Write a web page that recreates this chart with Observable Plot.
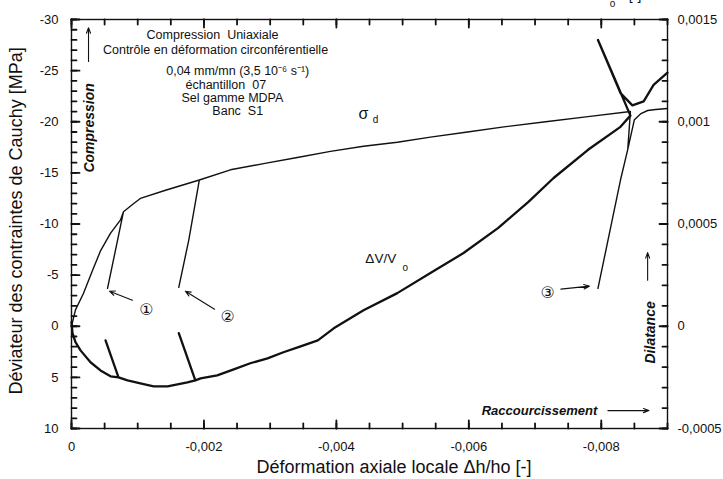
<!DOCTYPE html>
<html>
<head>
<meta charset="utf-8">
<script src="https://cdn.jsdelivr.net/npm/d3@7"></script>
<script src="https://cdn.jsdelivr.net/npm/@observablehq/plot@0.6"></script>
<style>
  html, body { margin: 0; padding: 0; background: #fff; }
  #chart svg { display: block; }
</style>
</head>
<body>
<div id="chart"></div>
<script>
// ---- Data -------------------------------------------------------------
// Deviatoric stress sigma_d [MPa] vs local axial strain (with unload/reload cycles 1, 2, 3)
const sigmaD = [
  [0, 0], [-0.00006, -1.6], [-0.00018, -3.2], [-0.00032, -5.5], [-0.00044, -7.4],
  [-0.00059, -9.1], [-0.00074, -10.4], [-0.000785, -11.2],
  [-0.000695, -8.4], [-0.000544, -3.7], [-0.000695, -8.4], [-0.000785, -11.2],
  [-0.00094, -12.0], [-0.00104, -12.5], [-0.00142, -13.3], [-0.00193, -14.3],
  [-0.00177, -8.4], [-0.00162, -3.8], [-0.00177, -8.4], [-0.00193, -14.3],
  [-0.0024, -15.3], [-0.0029, -15.9], [-0.00341, -16.5], [-0.00391, -17.1],
  [-0.00441, -17.6], [-0.00492, -18.0], [-0.00542, -18.5], [-0.00598, -19.0],
  [-0.00653, -19.5], [-0.00716, -20.0], [-0.0078, -20.5], [-0.00844, -21.0],
  [-0.0084, -17.3], [-0.00829, -14.3], [-0.00795, -3.7], [-0.00829, -14.3], [-0.0084, -17.3],
  [-0.0085, -20.2], [-0.0086, -20.8], [-0.0087, -21.1], [-0.00882, -21.2], [-0.009, -21.3]
];
// Volumetric strain dV/V0 [-] vs local axial strain
const dvV0 = [
  [0, 0.00002], [-0.000015, -0.000034], [-0.00006, -0.000078], [-0.000136, -0.000118],
  [-0.000287, -0.000176], [-0.000438, -0.000216], [-0.000589, -0.000245],
  [-0.00071, -0.00025], [-0.000514, -0.000069], [-0.00071, -0.00025],
  [-0.000846, -0.000265], [-0.00104, -0.000279], [-0.00124, -0.000294], [-0.00145, -0.000294],
  [-0.00175, -0.000275], [-0.00187, -0.000265], [-0.00162, -0.000034], [-0.00187, -0.000265],
  [-0.00195, -0.000255], [-0.0022, -0.00024], [-0.00245, -0.000211], [-0.0027, -0.000181],
  [-0.00296, -0.000157], [-0.0032, -0.000127], [-0.00346, -0.000098], [-0.00372, -0.000069],
  [-0.00396, -0.00001], [-0.00441, 0.000078], [-0.00492, 0.000162], [-0.00542, 0.00026],
  [-0.00592, 0.000358], [-0.00644, 0.00048], [-0.0069, 0.000608], [-0.00728, 0.000725],
  [-0.0078, 0.000863], [-0.00829, 0.000975], [-0.00844, 0.00103],
  [-0.00819, 0.00122], [-0.00795, 0.0014], [-0.00829, 0.00114], [-0.00847, 0.00108],
  [-0.00864, 0.0011], [-0.00879, 0.00118], [-0.009, 0.00124]
];
// Tick values
const leftTicks = [-30, -25, -20, -15, -10, -5, 0, 5, 10];
const leftMinorTicks = [-30, -29, -28, -27, -26, -25, -24, -23, -22, -21, -20, -19, -18, -17, -16, -15, -14, -13, -12, -11, -10,
  -9, -8, -7, -6, -5, -4, -3, -2, -1, 0, 1, 2, 3, 4, 5, 6, 7, 8, 9, 10];
const rightTicks = [0.0015, 0.001, 0.0005, 0, -0.0005];
const rightMinorTicks = [0.0015, 0.0014, 0.0013, 0.0012, 0.0011, 0.001, 0.0009, 0.0008, 0.0007, 0.0006, 0.0005,
  0.0004, 0.0003, 0.0002, 0.0001, 0, -0.0001, -0.0002, -0.0003, -0.0004, -0.0005];
const xTicks = [0, -0.002, -0.004, -0.006, -0.008];
const xMinorTicks = [0, -0.0005, -0.001, -0.0015, -0.002, -0.0025, -0.003, -0.0035, -0.004, -0.0045, -0.005,
  -0.0055, -0.006, -0.0065, -0.007, -0.0075, -0.008, -0.0085, -0.009];

// ---- Layout ---------------------------------------------------------------
const W = 723, H = 479, ML = 71, MR = 56, MT = 19, MB = 51;
const xDomain = [0, -0.009], yDomain = [10, -30];
const pxX = (xDomain[1] - xDomain[0]) / (W - ML - MR);   // data units per pixel (x)
const pxY = (yDomain[1] - yDomain[0]) / (H - MT - MB);   // data units per pixel (y, upward)

// ---- Helpers --------------------------------------------------------------
const K = -20000; // dV/V0 -> position on the stress axis (right axis 0.0015 <-> left -30)
const toY = v => Math.round(K * v * 1e6) / 1e6;
const frNum = v => String(v).replace(".", ",");
const FONT = "'Liberation Sans', Arial, Helvetica, sans-serif";
const rightLabel = new Map(rightTicks.map(v => [toY(v), frNum(v === 0 ? 0 : v)]));
const ink = "#111";

// inward tick marks drawn as head-less arrows
const ticksY = (ticks, side, len) => {
  const a = side === "left" ? xDomain[0] : xDomain[1];
  const b = a + (side === "left" ? 1 : -1) * len * pxX;
  return Plot.arrow(ticks.map(t => ({t, a, b})), {x1: "a", x2: "b", y1: "t", y2: "t", headLength: 0, stroke: ink, strokeWidth: 1.8});
};
const ticksX = (ticks, side, len) => {
  const a = side === "bottom" ? yDomain[0] : yDomain[1];
  const b = a + (side === "bottom" ? 1 : -1) * len * pxY;
  return Plot.arrow(ticks.map(t => ({t, a, b})), {x1: "t", x2: "t", y1: "a", y2: "b", headLength: 0, stroke: ink, strokeWidth: 1.8});
};

const chart = Plot.plot({
  width: W,
  height: H,
  marginLeft: ML,
  marginRight: MR,
  marginTop: MT,
  marginBottom: MB,
  x: {domain: xDomain, axis: null},
  y: {domain: yDomain, axis: null},
  style: {fontFamily: FONT, fontSize: "13px", color: ink, background: "#fff", overflow: "hidden"},
  marks: [
    // tick labels
    Plot.axisY(leftTicks, {anchor: "left", tickSize: 0, tickPadding: 13, tickFormat: d => String(d), label: null, fontSize: 13, fill: ink}),
    Plot.axisY(rightTicks.map(toY), {anchor: "right", tickSize: 0, tickPadding: 10, tickFormat: d => rightLabel.get(d), label: null, fontSize: 13, fill: ink}),
    Plot.axisX(xTicks, {anchor: "bottom", tickSize: 0, tickPadding: 13, tickFormat: frNum, label: null, fontSize: 13, fill: ink}),

    // axis titles
    Plot.text(["Déviateur des contraintes de Cauchy [MPa]"], {x: 0, y: -10.3, dx: -55, rotate: -90, textAnchor: "middle", fontSize: 18, fill: ink}),
    Plot.text(["Déformation axiale locale Δh/ho [-]"], {x: -0.00487, y: 10, dy: 39, textAnchor: "middle", fontSize: 18, fill: ink}),
    // right axis title (cut off at the top of the picture)
    Plot.text(["ΔV/V"], {x: -0.00808, y: -32.3, textAnchor: "end", fontSize: 14, fill: ink}),
    Plot.text(["o"], {x: -0.00817, y: -31.5, fontSize: 10, fill: ink}),
    Plot.text(["[-]"], {x: -0.00851, y: -32.3, fontSize: 14, fill: ink}),

    // curves
    Plot.line(dvV0, {x: d => d[0], y: d => toY(d[1]), stroke: ink, strokeWidth: 2.3}),
    Plot.line(sigmaD, {x: d => d[0], y: d => d[1], stroke: ink, strokeWidth: 1.4}),

    // test conditions block
    Plot.text(["Compression  Uniaxiale"], {x: -0.00213, y: -28.5, fontSize: 12.5, fill: ink}),
    Plot.text(["Contrôle en déformation circonférentielle"], {x: -0.002175, y: -27.0, fontSize: 12.5, fill: ink}),
    Plot.text(["0,04 mm/mn (3,5 10⁻⁶ s⁻¹)"], {x: -0.00251, y: -24.95, fontSize: 12.5, fill: ink}),
    Plot.text(["échantillon  07"], {x: -0.00233, y: -23.6, fontSize: 12.5, fill: ink}),
    Plot.text(["Sel gamme MDPA"], {x: -0.00243, y: -22.35, fontSize: 12.5, fill: ink}),
    Plot.text(["Banc  S1"], {x: -0.00251, y: -21.1, fontSize: 12.5, fill: ink}),

    // curve labels
    Plot.text(["σ"], {x: -0.00441, y: -20.8, fontSize: 16, fill: ink}),
    Plot.text(["d"], {x: -0.00459, y: -20.2, fontSize: 10, fill: ink}),
    Plot.text(["ΔV/V"], {x: -0.00467, y: -6.6, fontSize: 13.5, fill: ink}),
    Plot.text(["o"], {x: -0.00504, y: -5.7, fontSize: 10, fill: ink}),

    // cycle markers
    Plot.text(["①"], {x: -0.00113, y: -1.6, fontSize: 16, fontFamily: "DejaVu Sans", fill: ink}),
    Plot.text(["②"], {x: -0.00236, y: -0.9, fontSize: 16, fontFamily: "DejaVu Sans", fill: ink}),
    Plot.text(["③"], {x: -0.00719, y: -3.3, fontSize: 16, fontFamily: "DejaVu Sans", fill: ink}),
    Plot.arrow([0], {x1: -0.00092, y1: -2.55, x2: -0.000574, y2: -3.43, headLength: 8, headAngle: 45, stroke: ink, strokeWidth: 1.1}),
    Plot.arrow([0], {x1: -0.00216, y1: -1.67, x2: -0.00172, y2: -3.43, headLength: 8, headAngle: 45, stroke: ink, strokeWidth: 1.1}),
    Plot.arrow([0], {x1: -0.00739, y1: -3.63, x2: -0.00782, y2: -3.92, headLength: 8, headAngle: 45, stroke: ink, strokeWidth: 1.1}),

    // direction indications
    Plot.arrow([0], {x1: -0.000257, y1: -25.9, x2: -0.000257, y2: -29.2, headLength: 8, headAngle: 40, stroke: ink, strokeWidth: 1.1}),
    Plot.text(["Compression"], {x: -0.000272, y: -19.4, rotate: -90, fontSize: 14, fontWeight: "bold", fontStyle: "italic", fill: ink}),
    Plot.arrow([0], {x1: -0.0087, y1: -4.5, x2: -0.0087, y2: -7.2, headLength: 8, headAngle: 40, stroke: ink, strokeWidth: 1.1}),
    Plot.text(["Dilatance"], {x: -0.00875, y: 0.6, rotate: -90, fontSize: 14, fontWeight: "bold", fontStyle: "italic", fill: ink}),
    Plot.text(["Raccourcissement"], {x: -0.00794, y: 8.25, textAnchor: "end", fontSize: 13, fontWeight: "bold", fontStyle: "italic", fill: ink}),
    Plot.arrow([0], {x1: -0.0081, y1: 8.25, x2: -0.00872, y2: 8.25, headLength: 8, headAngle: 40, stroke: ink, strokeWidth: 1.1}),

    // inward ticks on all four sides
    ticksY(leftMinorTicks, "left", 5),
    ticksY(leftTicks, "left", 8),
    ticksY(rightMinorTicks.map(toY), "right", 5),
    ticksY(rightTicks.map(toY), "right", 8),
    ticksX(xMinorTicks, "bottom", 5),
    ticksX(xTicks, "bottom", 8),
    ticksX(xMinorTicks, "top", 5),
    ticksX(xTicks, "top", 8),
    // frame
    Plot.frame({stroke: ink, strokeWidth: 1.4, fill: "none"})
  ]
});
document.getElementById("chart").appendChild(chart);
</script>
</body>
</html>
